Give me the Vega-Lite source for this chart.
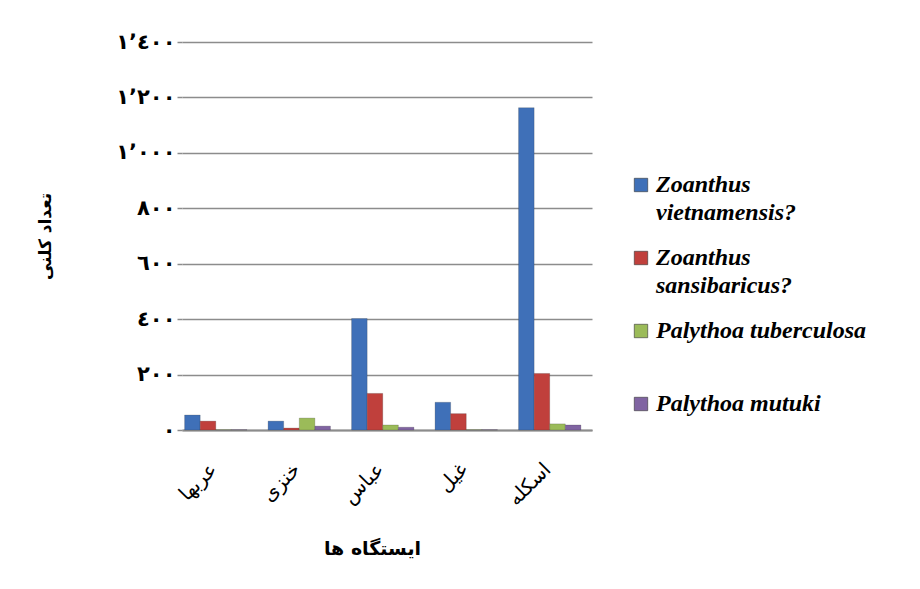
{
  "$schema": "https://vega.github.io/schema/vega-lite/v6.json",
  "width": 410,
  "height": 388,
  "autosize": {"type": "none"},
  "padding": {"left": 182, "top": 42, "right": 328, "bottom": 159},
  "background": "white",
  "data": {
    "values": [
      {"station": "عربها", "species": "Zoanthus vietnamensis?", "count": 54},
      {"station": "عربها", "species": "Zoanthus sansibaricus?", "count": 32},
      {"station": "عربها", "species": "Palythoa tuberculosa", "count": 1},
      {"station": "عربها", "species": "Palythoa mutuki", "count": 1},
      {"station": "خنزی", "species": "Zoanthus vietnamensis?", "count": 32},
      {"station": "خنزی", "species": "Zoanthus sansibaricus?", "count": 7},
      {"station": "خنزی", "species": "Palythoa tuberculosa", "count": 43},
      {"station": "خنزی", "species": "Palythoa mutuki", "count": 14},
      {"station": "عباس", "species": "Zoanthus vietnamensis?", "count": 402},
      {"station": "عباس", "species": "Zoanthus sansibaricus?", "count": 132},
      {"station": "عباس", "species": "Palythoa tuberculosa", "count": 18},
      {"station": "عباس", "species": "Palythoa mutuki", "count": 10},
      {"station": "غیل", "species": "Zoanthus vietnamensis?", "count": 100},
      {"station": "غیل", "species": "Zoanthus sansibaricus?", "count": 59},
      {"station": "غیل", "species": "Palythoa tuberculosa", "count": 1},
      {"station": "غیل", "species": "Palythoa mutuki", "count": 1},
      {"station": "اسکله", "species": "Zoanthus vietnamensis?", "count": 1163},
      {"station": "اسکله", "species": "Zoanthus sansibaricus?", "count": 204},
      {"station": "اسکله", "species": "Palythoa tuberculosa", "count": 22},
      {"station": "اسکله", "species": "Palythoa mutuki", "count": 18}
    ]
  },
  "mark": {"type": "bar", "strokeWidth": 0.6, "stroke": "#2b2b2b", "strokeOpacity": 0.35},
  "encoding": {
    "x": {
      "field": "station",
      "type": "nominal",
      "sort": ["عربها", "خنزی", "عباس", "غیل", "اسکله"],
      "scale": {"paddingInner": 0.253, "paddingOuter": 0.082, "align": 0.19},
      "axis": {
        "title": "ایستگاه ها",
        "labelAngle": -45,
        "labelAlign": "right",
        "labelBaseline": "top",
        "labelPadding": 29,
        "labelOffset": -9,
        "ticks": false,
        "domainColor": "#8c8c8c",
        "domainWidth": 2,
        "labelFont": "DejaVu Sans",
        "labelFontSize": 20,
        "labelColor": "black",
        "titleFont": "DejaVu Sans",
        "titleFontWeight": "bold",
        "titleFontSize": 19,
        "titleColor": "black",
        "titleX": 190,
        "titleY": 118,
        "titleAlign": "center",
        "titleBaseline": "middle"
      }
    },
    "xOffset": {
      "field": "species",
      "sort": ["Zoanthus vietnamensis?", "Zoanthus sansibaricus?", "Palythoa tuberculosa", "Palythoa mutuki"]
    },
    "y": {
      "field": "count",
      "type": "quantitative",
      "scale": {"domain": [0, 1400], "nice": false},
      "axis": {
        "title": "تعداد کلنی",
        "values": [0, 200, 400, 600, 800, 1000, 1200, 1400],
        "grid": true,
        "gridColor": "#8c8c8c",
        "gridWidth": 1.5,
        "domain": false,
        "tickColor": "#8c8c8c",
        "tickSize": 5,
        "tickWidth": 1.5,
        "labelPadding": 2,
        "labelFont": "DejaVu Sans",
        "labelFontSize": 21,
        "labelFontWeight": "bold",
        "labelColor": "black",
        "labelExpr": "datum.value==0?'٠':datum.value==200?'٢٠٠':datum.value==400?'٤٠٠':datum.value==600?'٦٠٠':datum.value==800?'٨٠٠':datum.value==1000?'١٬٠٠٠':datum.value==1200?'١٬٢٠٠':'١٬٤٠٠'",
        "titleFont": "DejaVu Sans",
        "titleFontWeight": "bold",
        "titleFontSize": 17,
        "titleColor": "black",
        "titleAngle": -90,
        "titleX": -137,
        "titleY": 194,
        "titleAlign": "center",
        "titleBaseline": "middle"
      }
    },
    "color": {
      "field": "species",
      "type": "nominal",
      "scale": {
        "domain": ["Zoanthus vietnamensis?", "Zoanthus sansibaricus?", "Palythoa tuberculosa", "Palythoa mutuki"],
        "range": ["#3f70b8", "#c0403c", "#9bbb59", "#8064a2"]
      },
      "legend": {
        "title": null,
        "orient": "none",
        "legendX": 447,
        "legendY": 131,
        "symbolType": "square",
        "symbolSize": 180,
        "symbolStrokeColor": "#333333",
        "symbolStrokeWidth": 0.6,
        "labelFont": "Liberation Serif",
        "labelFontSize": 24,
        "labelFontStyle": "italic",
        "labelFontWeight": "bold",
        "labelColor": "black",
        "labelOffset": 3,
        "labelLimit": 300,
        "labelBaseline": "middle",
        "rowPadding": 21,
        "labelExpr": "datum.label=='Zoanthus vietnamensis?'?['Zoanthus','vietnamensis?']:datum.label=='Zoanthus sansibaricus?'?['Zoanthus','sansibaricus?']:[datum.label,' ']"
      }
    }
  },
  "config": {
    "view": {"stroke": null},
    "style": {"guide-label": {"lineHeight": 28}}
  }
}
